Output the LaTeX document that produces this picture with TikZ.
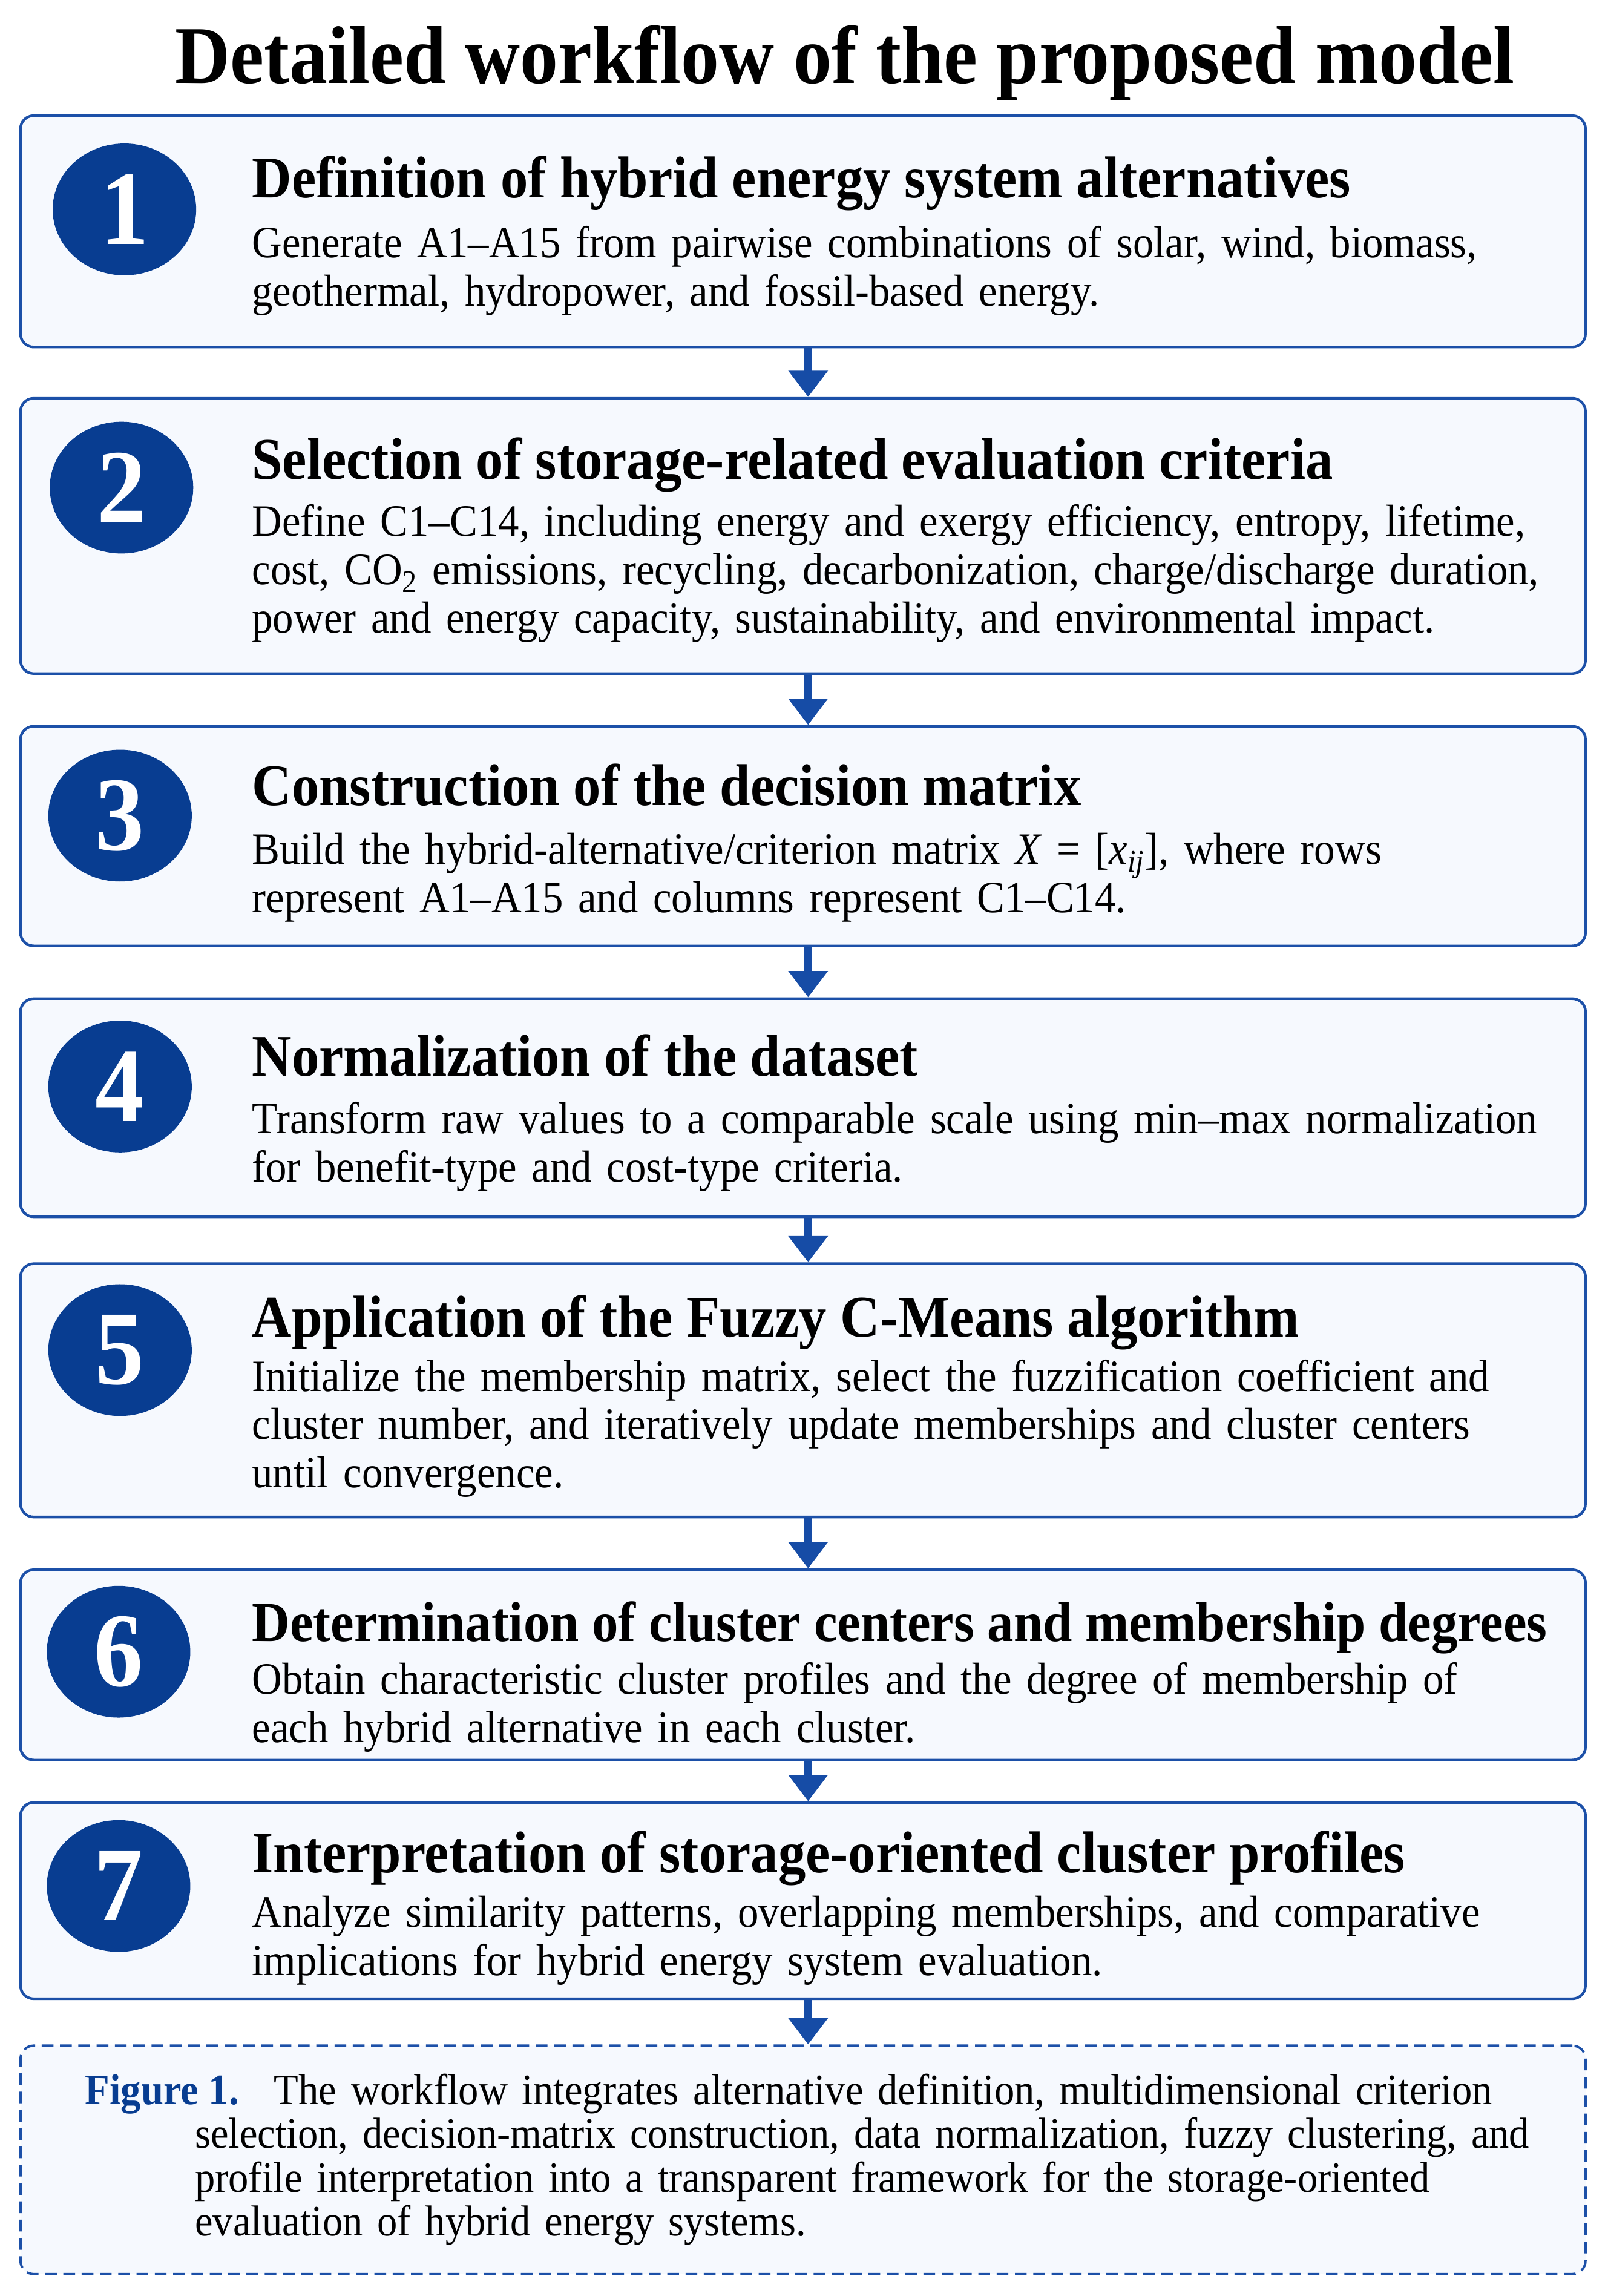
\documentclass[tikz,border=0pt]{standalone}
\usepackage{fontspec}
\setmainfont{Liberation Serif}[FakeStretch=0.93]
\usetikzlibrary{arrows.meta,shapes.geometric}

\definecolor{navy}{RGB}{8,61,145}
\definecolor{boxline}{RGB}{28,80,168}
\definecolor{boxfill}{RGB}{246,249,254}
\definecolor{arrowblue}{RGB}{22,76,166}

\tikzset{
  stepbox/.style={draw=boxline, line width=1.8pt, fill=boxfill, rounded corners=9pt, minimum width=1069pt, inner sep=0pt},
  notebox/.style={stepbox, dash pattern=on 8pt off 4.5pt, line width=1.6pt},
  stepnum/.style={ellipse, fill=navy, minimum width=98pt, minimum height=90pt, inner sep=0pt, text=white, font=\fontsize{72}{72}\selectfont\bfseries},
  headtext/.style={anchor=base west, inner sep=0pt, font=\fontsize{40.3}{44}\selectfont\bfseries},
  bodytext/.style={anchor=base west, inner sep=0pt, text width=930pt, align=left, font=\fontsize{30.6}{33}\selectfont},
  notetext/.style={anchor=base west, inner sep=0pt, font=\fontsize{29.6}{30}\selectfont},
  flowarrow/.style={-{Triangle[width=26pt,length=18pt]}, draw=arrowblue, line width=5.5pt}
}

\begin{document}
\begin{tikzpicture}[x=1pt,y=-1pt]
\fill[white] (0,0) rectangle (1098,1568);
\useasboundingbox (0,0) rectangle (1098,1568);

\node[anchor=base, inner sep=0pt, font=\fontsize{56}{60}\selectfont\bfseries] (title) at (577,57) {Detailed workflow of the proposed model};

% boxes
\foreach \i/\top/\bot in {1/79/237,2/272/460,3/496/646,4/682/831,5/863/1036,6/1072/1202,7/1231/1365}
  \node[stepbox, minimum height={(\bot-\top)*1pt}] (b\i) at (548.5,{(\top+\bot)/2}) {};
\node[notebox, minimum height=156pt] (note) at (548.5,1475) {};

% step numbers
\node[stepnum] (n1) at (85,143) {1};
\node[stepnum] (n2) at (83,333) {2};
\node[stepnum] (n3) at (82,557) {3};
\node[stepnum] (n4) at (82,742) {4};
\node[stepnum] (n5) at (82,922) {5};
\node[stepnum] (n6) at (81,1128) {6};
\node[stepnum] (n7) at (81,1288) {7};

% step texts
\node[headtext] (h1) at (172,135) {Definition of hybrid energy system alternatives};
\node[bodytext] (t1) at (172,176) {Generate A1--A15 from pairwise combinations of solar, wind, biomass,\\ geothermal, hydropower, and fossil-based energy.};

\node[headtext] (h2) at (172,327) {Selection of storage-related evaluation criteria};
\node[bodytext] (t2) at (172,366) {Define C1--C14, including energy and exergy efficiency, entropy, lifetime,\\ cost, CO\textsubscript{2} emissions, recycling, decarbonization, charge/discharge duration,\\ power and energy capacity, sustainability, and environmental impact.};

\node[headtext] (h3) at (172,550) {Construction of the decision matrix};
\node[bodytext] (t3) at (172,590) {Build the hybrid-alternative/criterion matrix \textit{X} = [\textit{x}\textsubscript{\textit{ij}}], where rows\\ represent A1--A15 and columns represent C1--C14.};

\node[headtext] (h4) at (172,735) {Normalization of the dataset};
\node[bodytext] (t4) at (172,774) {Transform raw values to a comparable scale using min--max normalization\\ for benefit-type and cost-type criteria.};

\node[headtext] (h5) at (172,913) {Application of the Fuzzy C-Means algorithm};
\node[bodytext] (t5) at (172,950) {Initialize the membership matrix, select the fuzzification coefficient and\\ cluster number, and iteratively update memberships and cluster centers\\ until convergence.};

\node[headtext, font=\fontsize{38.6}{44}\selectfont\bfseries] (h6) at (172,1121) {Determination of cluster centers and membership degrees};
\node[bodytext] (t6) at (172,1157) {Obtain characteristic cluster profiles and the degree of membership of\\ each hybrid alternative in each cluster.};

\node[headtext] (h7) at (172,1279) {Interpretation of storage-oriented cluster profiles};
\node[bodytext] (t7) at (172,1316) {Analyze similarity patterns, overlapping memberships, and comparative\\ implications for hybrid energy system evaluation.};

% caption
\node[notetext, font=\fontsize{29.6}{30}\selectfont\bfseries, text=navy] (notelabel) at (58,1437) {Figure 1.};
\node[notetext, text width=950pt, align=left] (notebody) at (133,1437) {\hspace*{54pt}The workflow integrates alternative definition, multidimensional criterion\\ selection, decision-matrix construction, data normalization, fuzzy clustering, and\\ profile interpretation into a transparent framework for the storage-oriented\\ evaluation of hybrid energy systems.};

% arrows
\foreach \j [count=\i] in {2,...,7}
  \draw[flowarrow] ([xshift=3.5pt]b\i.south) -- ([xshift=3.5pt]b\j.north);
\draw[flowarrow] ([xshift=3.5pt]b7.south) -- ([xshift=3.5pt]note.north);
\end{tikzpicture}
\end{document}
